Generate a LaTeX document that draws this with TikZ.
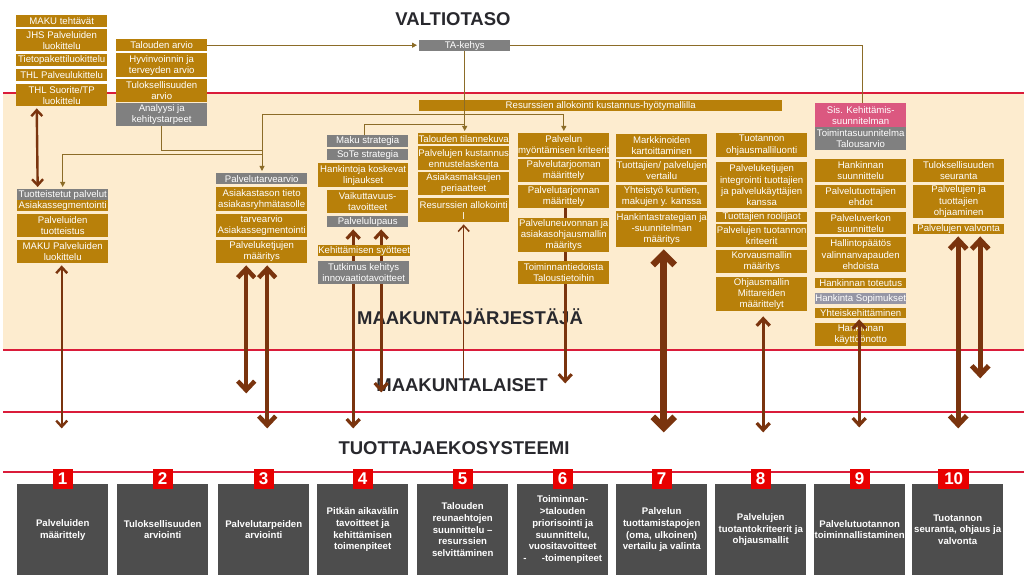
\documentclass[tikz,border=0pt]{standalone}
\usepackage{fontspec}
\setmainfont{Liberation Sans}
\usetikzlibrary{arrows.meta, backgrounds}
\definecolor{bandbeige}{RGB}{253,236,207}
\definecolor{linered}{RGB}{218,28,58}
\definecolor{boxgold}{RGB}{184,128,10}
\definecolor{boxgray}{RGB}{128,128,128}
\definecolor{boxpale}{RGB}{150,150,165}
\definecolor{boxpink}{RGB}{219,88,128}
\definecolor{boxdark}{RGB}{77,77,77}
\definecolor{badgered}{RGB}{232,0,0}
\definecolor{arrbrown}{RGB}{122,52,14}
\definecolor{wireolive}{RGB}{140,108,40}
\definecolor{titledark}{RGB}{40,40,45}
\tikzset{
  goldbox/.style={rectangle, fill=boxgold, text=white,
    font=\fontsize{9.6}{11.2}\selectfont, align=center,
    inner xsep=0pt, inner ysep=0pt, minimum width=91pt, anchor=north west},
  graybox/.style={goldbox, fill=boxgray},
  palebox/.style={goldbox, fill=boxpale},
  pinkbox/.style={goldbox, fill=boxpink},
  stepbox/.style={rectangle, fill=boxdark, text=white,
    font=\fontsize{9.6}{11.7}\selectfont\bfseries, align=center,
    minimum width=91pt, minimum height=91pt, inner sep=0pt, anchor=north west},
  badge/.style={rectangle, fill=badgered, text=white,
    font=\fontsize{17}{17}\selectfont\bfseries,
    minimum width=20pt, minimum height=20pt, inner sep=1pt},
  leveltitle/.style={font=\fontsize{18.5}{20}\selectfont\bfseries, text=titledark},
  levelline/.style={draw=linered, line width=1.6pt},
  wire/.style={draw=wireolive, line width=0.9pt},
  wirearrow/.style={wire, -{Triangle[length=5pt,width=5pt]}, shorten >=2pt},
  barbS/.tip={Straight Barb[length=6pt,width=11pt]},
  barbM/.tip={Straight Barb[length=7pt,width=13pt]},
  barbL/.tip={Straight Barb[length=9pt,width=17pt]},
  barbXL/.tip={Straight Barb[length=11pt,width=22pt]},
  twoS/.style={draw=arrbrown, line width=2.4pt, barbS-barbS},
  twoM/.style={draw=arrbrown, line width=3.2pt, barbM-barbM},
  twoL/.style={draw=arrbrown, line width=4.5pt, barbL-barbL},
  twoXL/.style={draw=arrbrown, line width=6.5pt, barbXL-barbXL}
}

\begin{document}
\begin{tikzpicture}[x=1pt, y=-1pt]
  \useasboundingbox (0,0) rectangle (1024,577);

  % Levels
  \begin{scope}[on background layer]
    \fill[bandbeige] (3,93) rectangle (1024,350);
    \draw[levelline] (3,93) -- (1024,93);
    \draw[levelline] (3,350) -- (1024,350);
    \draw[levelline] (3,412) -- (1024,412);
    \draw[levelline] (3,472) -- (1024,472);
    \node[leveltitle] (valtio) at (453,19) {VALTIOTASO};
    \node[leveltitle] (jarjestaja) at (470,317) {MAAKUNTAJÄRJESTÄJÄ};
    \node[leveltitle] (asukkaat) at (462,385) {MAAKUNTALAISET};
    \node[leveltitle] (ekosys) at (454,448) {TUOTTAJAEKOSYSTEEMI};
  \end{scope}

  % State level classifications
  \node[goldbox, minimum height=12pt] (tehtavat) at (16,15) {MAKU tehtävät};
  \node[goldbox, minimum height=22pt] (jhs) at (16,29) {JHS Palveluiden\\luokittelu};
  \node[goldbox, minimum height=12pt] (tietopak) at (16,54) {Tietopakettiluokittelu};
  \node[goldbox, minimum height=12pt] (thlpalv) at (16,69) {THL Palveulukittelu};
  \node[goldbox, minimum height=22pt] (thlsuor) at (16,84) {THL Suorite/TP\\luokittelu};

  % State level evaluations
  \node[goldbox, minimum height=12pt] (talarvio) at (116,39) {Talouden arvio};
  \node[goldbox, minimum height=24pt] (hyvarvio) at (116,53) {Hyvinvoinnin ja\\terveyden arvio};
  \node[goldbox, minimum height=23pt] (tularvio) at (116,79) {Tuloksellisuuden\\arvio};
  \node[graybox, minimum height=23pt] (analyysi) at (116,103) {Analyysi ja\\kehitystarpeet};

  \node[graybox, minimum height=11pt] (takehys) at (419,40) {TA-kehys};
  \node[goldbox, minimum height=11pt, minimum width=363pt] (allokmalli) at (419,100)
    {Resurssien allokointi kustannus-hyötymallilla};

  % Column 1
  \node[graybox, minimum height=11pt] (tuotteist) at (17,189) {Tuotteistetut palvelut};
  \node[goldbox, minimum height=11pt] (segm1) at (17,200) {Asiakassegmentointi};
  \node[goldbox, minimum height=23pt] (tuotteistus) at (17,214) {Palveluiden\\tuotteistus};
  \node[goldbox, minimum height=23pt] (makuluok) at (17,240) {MAKU Palveluiden\\luokittelu};

  % Column 2
  \node[graybox, minimum height=11pt] (tarvearvio) at (216,173) {Palvelutarvearvio};
  \node[goldbox, minimum height=24pt] (asiakastieto) at (216,187) {Asiakastason tieto\\asiakasryhmätasolle};
  \node[goldbox, minimum height=23pt] (segm2) at (216,214) {tarvearvio\\Asiakassegmentointi};
  \node[goldbox, minimum height=23pt] (ketjut) at (216,240) {Palveluketjujen\\määritys};

  % Column 3
  \node[graybox, minimum height=12pt, minimum width=81pt] (makustrat) at (327,135) {Maku strategia};
  \node[graybox, minimum height=11pt, minimum width=81pt] (sotestrat) at (327,149) {SoTe strategia};
  \node[goldbox, minimum height=24pt, minimum width=90pt] (linjaukset) at (318,163) {Hankintoja koskevat\\linjaukset};
  \node[goldbox, minimum height=23pt, minimum width=81pt] (vaikutt) at (327,190) {Vaikuttavuus-\\tavoitteet};
  \node[graybox, minimum height=11pt, minimum width=81pt] (lupaus) at (327,216) {Palvelulupaus};
  \node[goldbox, minimum height=11pt, minimum width=92pt] (syotteet) at (318,245) {Kehittämisen syötteet};
  \node[graybox, minimum height=23pt] (tutkimus) at (318,261) {Tutkimus kehitys\\innovaatiotavoitteet};

  % Column 4
  \node[goldbox, minimum height=11pt] (tilanne) at (418,133) {Talouden tilannekuva};
  \node[goldbox, minimum height=24pt] (ennuste) at (418,146) {Palvelujen kustannus\\ennustelaskenta};
  \node[goldbox, minimum height=23pt] (maksut) at (418,172) {Asiakasmaksujen\\periaatteet};
  \node[goldbox, minimum height=24pt] (allokointi) at (418,198) {Resurssien allokointi\\l};

  % Column 5
  \node[goldbox, minimum height=24pt] (myontam) at (518,133) {Palvelun\\myöntämisen kriteerit};
  \node[goldbox, minimum height=23pt] (tarjooma) at (518,159) {Palvelutarjooman\\määrittely};
  \node[goldbox, minimum height=23pt] (tarjonta) at (518,185) {Palvelutarjonnan\\määrittely};
  \node[goldbox, minimum height=34pt] (neuvonta) at (518,218) {Palveluneuvonnan ja\\asiakasohjausmallin\\määritys};
  \node[goldbox, minimum height=23pt] (tiedot) at (518,261) {Toiminnantiedoista\\Taloustietoihin};

  % Column 6
  \node[goldbox, minimum height=23pt] (markkinat) at (616,134) {Markkinoiden\\kartoittaminen};
  \node[goldbox, minimum height=23pt] (vertailu) at (616,159) {Tuottajien/ palvelujen\\vertailu};
  \node[goldbox, minimum height=23pt] (yhteistyo) at (616,185) {Yhteistyö kuntien,\\makujen y. kanssa};
  \node[goldbox, minimum height=36pt] (hstrat) at (616,211) {Hankintastrategian ja\\-suunnitelman\\määritys};

  % Column 7
  \node[goldbox, minimum height=24pt] (ohjluonti) at (716,133) {Tuotannon\\ohjausmalliluonti};
  \node[goldbox, minimum height=46pt] (integr) at (716,162) {Palveluketjujen\\integrointi tuottajien\\ja palvelukäyttäjien\\kanssa};
  \node[goldbox, minimum height=10pt] (roolit) at (716,212) {Tuottajien roolijaot};
  \node[goldbox, minimum height=23pt] (kriteerit) at (716,224) {Palvelujen tuotannon\\kriteerit};
  \node[goldbox, minimum height=23pt] (korvaus) at (716,250) {Korvausmallin\\määritys};
  \node[goldbox, minimum height=34pt] (mittarit) at (716,277) {Ohjausmallin\\Mittareiden\\määrittelyt};

  % Column 8
  \node[pinkbox, minimum height=24pt] (siskeh) at (815,103) {Sis. Kehittämis-\\suunnitelman};
  \node[graybox, minimum height=23pt] (talousarvio) at (815,127) {Toimintasuunnitelma\\Talousarvio};
  \node[goldbox, minimum height=23pt] (hsuunn) at (815,159) {Hankinnan\\suunnittelu};
  \node[goldbox, minimum height=23pt] (ehdot) at (815,185) {Palvelutuottajien\\ehdot};
  \node[goldbox, minimum height=22pt] (verkko) at (815,212) {Palveluverkon\\suunnittelu};
  \node[goldbox, minimum height=35pt] (hallinto) at (815,237) {Hallintopäätös\\valinnanvapauden\\ehdoista};
  \node[goldbox, minimum height=10pt] (toteutus) at (815,278) {Hankinnan toteutus};
  \node[palebox, minimum height=11pt] (sopimukset) at (815,293) {Hankinta Sopimukset};
  \node[goldbox, minimum height=10pt] (yhteiskeh) at (815,308) {Yhteiskehittäminen};
  \node[goldbox, minimum height=23pt] (kayttoon) at (815,323) {Hankinnan\\käyttöönotto};

  % Column 9
  \node[goldbox, minimum height=23pt] (seuranta) at (913,159) {Tuloksellisuuden\\seuranta};
  \node[goldbox, minimum height=33pt] (ohjaaminen) at (913,185) {Palvelujen ja\\tuottajien\\ohjaaminen};
  \node[goldbox, minimum height=10pt] (valvonta) at (913,224) {Palvelujen valvonta};

  % Thin connectors
  \coordinate (busT) at (262,114);
  \coordinate (busM) at (262,150);
  \coordinate (busL) at (262,154);
  \coordinate (tajoin) at (465,124);
  \draw[wirearrow] (talarvio.east) -- (talarvio.east -| takehys.west);
  \draw[wire] (takehys.east) -| ([xshift=1.5pt]siskeh.north);
  \draw[wirearrow] (takehys.south) -- (takehys.south |- tilanne.north);
  \draw[wire] ([xshift=-3pt]makustrat.north) |- (tajoin);
  \draw[wire] (analyysi.south) |- (busM);
  \draw[wirearrow] (busT) -- (busT |- tarvearvio.north);
  \draw[wirearrow] (busT) -| (myontam.north);
  \draw[wirearrow] (busL) -| (tuotteist.north);

  % Arrows behind the boxes
  \begin{scope}[on background layer]
    \draw[twoM, shorten <=2pt] ([xshift=-14.5pt]lupaus.south) -- ++(0,201);
    \draw[twoM, shorten <=2pt] ([xshift=13.5pt]lupaus.south) -- ++(0,165);
    \draw[draw=arrbrown, line width=3pt, -barbM] ([xshift=1.5pt]tarjonta.south) -- ++(0,175);
  \end{scope}

  % Arrows between the levels
  \draw[twoS, shorten <=2pt, shorten >=2pt] ([xshift=-25pt]thlsuor.south) -- ([xshift=-25pt]tuotteist.north);
  \draw[twoS, shorten <=2pt] ([xshift=-1pt]makuluok.south) -- ++(0,165);
  \draw[twoL, shorten <=2pt] ([xshift=-15.5pt]ketjut.south) -- ++(0,130);
  \draw[twoL, shorten <=2pt] ([xshift=5.5pt]ketjut.south) -- ++(0,165);
  \draw[draw=arrbrown, line width=1.5pt, barbS-, shorten <=2pt] (allokointi.south) -- ++(0,158);
  \draw[twoXL, shorten <=2pt] ([xshift=2pt]hstrat.south) -- ++(0,185);
  \draw[twoM, shorten <=5pt] ([xshift=1.5pt]mittarit.south) -- ++(0,121);
  \draw[twoM, shorten <=1pt] ([xshift=-1.5pt]yhteiskeh.south) -- ++(0,109);
  \draw[twoL, line width=5pt, shorten <=2pt] ([xshift=-0.5pt]valvonta.south) -- ++(0,194);
  \draw[twoL, line width=5pt, shorten <=2pt] ([xshift=21.5pt]valvonta.south) -- ++(0,144);

  % Process steps
  \node[stepbox] (step1) at (17,484) {Palveluiden\\määrittely};
  \node[stepbox] (step2) at (117,484) {Tuloksellisuuden\\arviointi};
  \node[stepbox] (step3) at (218,484) {Palvelutarpeiden\\arviointi};
  \node[stepbox] (step4) at (317,484) {Pitkän aikavälin\\tavoitteet ja\\kehittämisen\\toimenpiteet};
  \node[stepbox] (step5) at (417,484) {Talouden\\reunaehtojen\\suunnittelu –\\resurssien\\selvittäminen};
  \node[stepbox] (step6) at (517,484) {Toiminnan-\\>talouden\\priorisointi ja\\suunnittelu,\\vuositavoitteet\\-\hspace{1.6em}-toimenpiteet};
  \node[stepbox] (step7) at (616,484) {Palvelun\\tuottamistapojen\\(oma, ulkoinen)\\vertailu ja valinta};
  \node[stepbox] (step8) at (715,484) {Palvelujen\\tuotantokriteerit ja\\ohjausmallit};
  \node[stepbox] (step9) at (814,484) {Palvelutuotannon\\toiminnallistaminen};
  \node[stepbox] (step10) at (912,484) {Tuotannon\\seuranta, ohjaus ja\\valvonta};

  % Step numbers
  \node[badge] (num1) at ([yshift=5pt]step1.north) {1};
  \node[badge] (num2) at ([yshift=5pt]step2.north) {2};
  \node[badge] (num3) at ([yshift=5pt]step3.north) {3};
  \node[badge] (num4) at ([yshift=5pt]step4.north) {4};
  \node[badge] (num5) at ([yshift=5pt]step5.north) {5};
  \node[badge] (num6) at ([yshift=5pt]step6.north) {6};
  \node[badge] (num7) at ([yshift=5pt]step7.north) {7};
  \node[badge] (num8) at ([yshift=5pt]step8.north) {8};
  \node[badge] (num9) at ([yshift=5pt]step9.north) {9};
  \node[badge, minimum width=31pt] (num10) at ([xshift=-4pt, yshift=5pt]step10.north) {10};
\end{tikzpicture}
\end{document}
